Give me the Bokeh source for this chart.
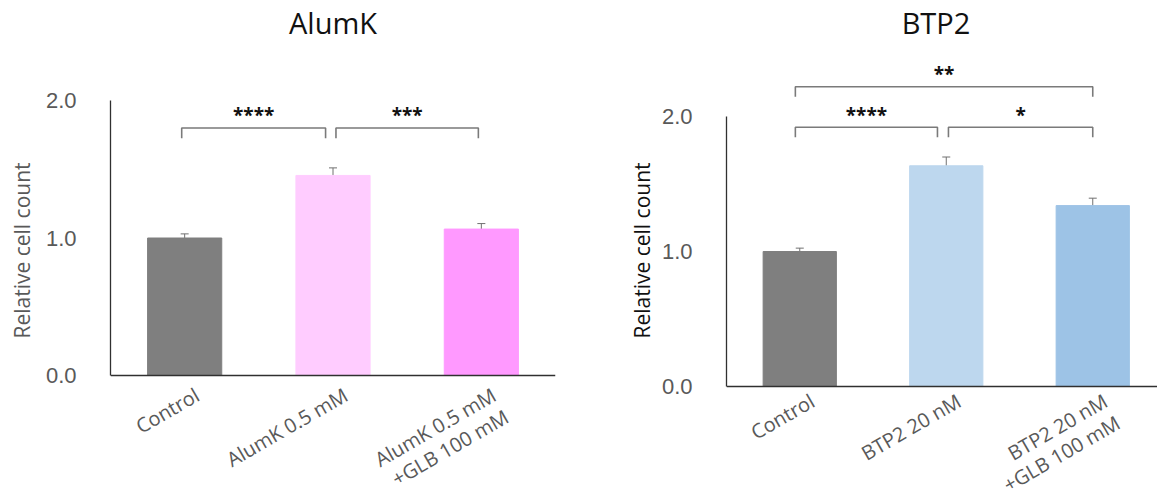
import math
from bokeh.plotting import figure
from bokeh.layouts import row
from bokeh.models import ColumnDataSource, Whisker, FixedTicker, TeeHead, PrintfTickFormatter
from bokeh.core.properties import value
from bokeh.embed import file_html
from bokeh.resources import INLINE

# ---------------- data ----------------
alum_categories = ["Control", "AlumK 0.5 mM", "AlumK 0.5 mM\n+GLB 100 mM"]
alum_values = [1.00, 1.455, 1.065]
alum_errors = [0.03, 0.055, 0.04]
alum_colors = ["#7f7f7f", "#ffccff", "#ff99ff"]
alum_brackets = [(0.98, 1.95, 1.80, "****"), (2.02, 2.98, 1.80, "***")]

btp_categories = ["Control", "BTP2 20 nM", "BTP2 20 nM\n+GLB 100 mM"]
btp_values = [1.00, 1.635, 1.34]
btp_errors = [0.025, 0.065, 0.055]
btp_colors = ["#7f7f7f", "#bdd7ee", "#9dc3e6"]
btp_brackets = [(0.97, 1.94, 1.92, "****"), (2.015, 3.0, 1.92, "*"), (0.97, 3.0, 2.22, "**")]

y_ticks = [0, 1, 2]

GRAY_TXT = "#595959"
AXIS_COL = "#303030"
H = 500


def make_chart(title, cats, vals, errs, colors, brackets, x_end, y_start, y_end,
               border_left, border_right, width, ylabel_color, ylabel_standoff,
               title_x, title_y, star_gap, label_dy):
    xs = [i + 1 for i in range(len(cats))]
    src = ColumnDataSource(dict(
        x=xs, top=vals, color=colors, label=cats, zero=[0] * len(cats),
        upper=[v + e for v, e in zip(vals, errs)],
        lower=[v - e for v, e in zip(vals, errs)],
    ))
    p = figure(width=width, height=H, x_range=(0.5, x_end), y_range=(y_start, y_end),
               output_backend="svg", toolbar_location=None,
               min_border_left=border_left, min_border_right=border_right,
               min_border_top=0, min_border_bottom=0)
    p.outline_line_color = None
    p.xgrid.grid_line_color = None
    p.ygrid.grid_line_color = None

    p.vbar(x="x", top="top", width=0.5, color="color", source=src)
    head = dict(size=8, line_color="#707070", line_width=1)
    w = Whisker(base="x", upper="upper", lower="lower", source=src,
                line_color="#707070", line_width=1,
                upper_head=TeeHead(**head), lower_head=TeeHead(**head))
    p.add_layout(w)

    drop = 0.074
    for x0, x1, y, lab in brackets:
        p.line([x0, x0, x1, x1], [y - drop, y, y, y - drop], line_color="#7a7a7a", line_width=1.6)
        p.text(x=[(x0 + x1) / 2], y=[y + star_gap], text=[lab], text_align="center",
               text_baseline="middle", text_font=value("Open Sans"),
               text_font_size="19px", text_font_style="bold", text_color="#111111")

    # category labels (rotated, below the axis)
    p.text(x="x", y="zero", text="label", source=src, angle=math.pi / 6,
           text_align="right", text_baseline="top", x_offset=6, y_offset=label_dy,
           text_font=value("Open Sans"), text_font_size="20px",
           text_color=GRAY_TXT, text_line_height=0.93)

    # title
    p.text(x=[title_x], y=[title_y], text=[title], text_align="center",
           text_baseline="middle", text_font=value("Open Sans"),
           text_font_size="29px", text_color="#111111")

    # y axis
    ya = p.yaxis[0]
    ya.ticker = FixedTicker(ticks=y_ticks)
    ya.formatter = PrintfTickFormatter(format="%.1f")
    ya.bounds = (0, 2)
    ya.major_tick_line_color = None
    ya.minor_tick_line_color = None
    ya.axis_line_color = AXIS_COL
    ya.axis_line_width = 1.3
    ya.major_label_text_font = "Liberation Sans"
    ya.major_label_text_font_size = "22px"
    ya.major_label_text_color = GRAY_TXT
    ya.major_label_standoff = 28
    ya.axis_label = "Relative cell count"
    ya.axis_label_text_font = "Open Sans"
    ya.axis_label_text_font_style = "normal"
    ya.axis_label_text_font_size = "21px"
    ya.axis_label_text_color = ylabel_color
    ya.axis_label_standoff = ylabel_standoff

    # x axis line sits at y = 0
    xa = p.xaxis[0]
    xa.fixed_location = 0
    xa.ticker = FixedTicker(ticks=[])
    xa.major_tick_line_color = None
    xa.minor_tick_line_color = None
    xa.major_tick_out = 0
    xa.major_label_standoff = 0
    xa.axis_line_color = AXIS_COL
    xa.axis_line_width = 1.3
    return p


# left: y=0 at y 375 px, 137.5 px per unit; frame spans 0..H
p1 = make_chart("AlumK", alum_categories, alum_values, alum_errors, alum_colors, alum_brackets,
                x_end=3.5, y_start=-(H - 375) / 137.5, y_end=375 / 137.5,
                border_left=110, border_right=33, width=588,
                ylabel_color=GRAY_TXT, ylabel_standoff=7, title_x=2.0, title_y=2.567,
                star_gap=0.092, label_dy=6)
# right: y=0 at y 386 px, 135 px per unit
p2 = make_chart("BTP2", btp_categories, btp_values, btp_errors, btp_colors, btp_brackets,
                x_end=0.5 + 431 / 146.5, y_start=-(H - 386) / 135, y_end=386 / 135,
                border_left=138, border_right=0, width=569,
                ylabel_color="#111111", ylabel_standoff=3, title_x=1.93, title_y=2.696,
                star_gap=0.093, label_dy=1)

layout = row(p1, p2)
open("out.html", "w").write(file_html(layout, INLINE))
